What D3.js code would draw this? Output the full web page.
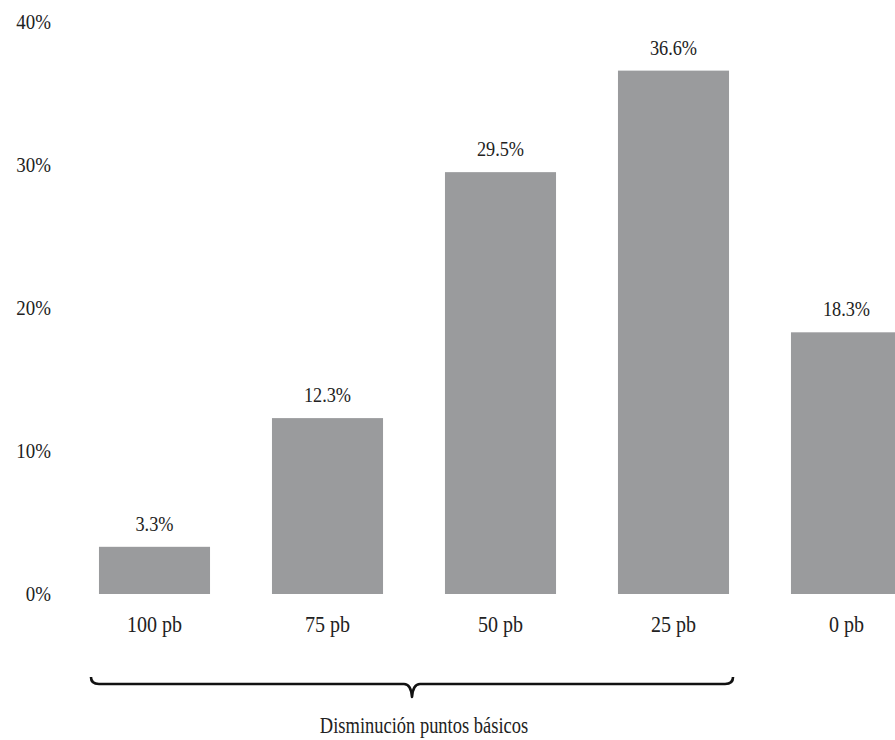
<!DOCTYPE html>
<html><head><meta charset="utf-8">
<script src="https://cdn.jsdelivr.net/npm/d3@7"></script>
<style>
html,body{margin:0;padding:0;background:#fff;}
svg{display:block;}
text{font-family:"Liberation Serif","Times New Roman",serif;fill:#222;}
</style></head>
<body>
<svg id="chart" width="895" height="740"></svg>
<script>
const categories = ["100 pb", "75 pb", "50 pb", "25 pb", "0 pb"];
const values = [3.3, 12.3, 29.5, 36.6, 18.3];
const valueLabels = ["3.3%", "12.3%", "29.5%", "36.6%", "18.3%"];
const yTicks = [0, 10, 20, 30, 40];
const yTickLabels = ["0%", "10%", "20%", "30%", "40%"];
const bracedCategories = ["100 pb", "75 pb", "50 pb", "25 pb"];
const braceLabel = "Disminución puntos básicos";

const svg = d3.select("#chart");
const baseY = 594, topY = 22;

const x = d3.scaleBand().domain(categories).range([68, 933]).paddingInner(0.358).paddingOuter(0.179);
const y = d3.scaleLinear().domain([0, 40]).range([baseY, topY]);

// y axis
const yAxis = d3.axisLeft(y).tickValues(yTicks).tickSize(0).tickPadding(0)
  .tickFormat((d, i) => yTickLabels[i]);
const gy = svg.append("g").attr("transform", "translate(51,0)").call(yAxis);
gy.select(".domain").remove();
gy.selectAll("text").style("font-size", "21px").style("font-family", '"Liberation Serif",serif')
  .attr("fill", "#222").attr("x", 0).attr("transform", "scale(0.9,1)");

// bars
svg.append("g").selectAll("rect").data(values).join("rect")
  .attr("x", (d, i) => x(categories[i]))
  .attr("y", d => y(d))
  .attr("width", x.bandwidth())
  .attr("height", d => baseY - y(d))
  .attr("fill", "#9a9b9d");

// value labels
svg.append("g").selectAll("text").data(values).join("text")
  .attr("transform", (d, i) => `translate(${x(categories[i]) + x.bandwidth() / 2},${y(d) - 16}) scale(0.83,1)`)
  .attr("text-anchor", "middle")
  .style("font-size", "22px")
  .text((d, i) => valueLabels[i]);

// x axis
const xAxis = d3.axisBottom(x).tickSize(0).tickPadding(22);
const gx = svg.append("g").attr("transform", `translate(0,${baseY})`).call(xAxis);
gx.select(".domain").remove();
gx.selectAll("text").style("font-size", "23px").style("font-family", '"Liberation Serif",serif')
  .attr("fill", "#222").attr("transform", "scale(0.87,1)");

// brace
const bx0 = x(bracedCategories[0]) - 8;
const bx1 = x(bracedCategories[bracedCategories.length - 1]) + x.bandwidth() + 4;
const bm = (bx0 + bx1) / 2;
const by = 684;
const p = d3.path();
p.moveTo(bx0, by - 7);
p.quadraticCurveTo(bx0, by, bx0 + 8, by);
p.lineTo(bm - 8, by);
p.quadraticCurveTo(bm - 1, by, bm, by + 13);
p.quadraticCurveTo(bm + 1, by, bm + 8, by);
p.lineTo(bx1 - 8, by);
p.quadraticCurveTo(bx1, by, bx1, by - 7);
svg.append("path").attr("d", p.toString()).attr("fill", "none")
  .attr("stroke", "#111").attr("stroke-width", 2.6).attr("stroke-linejoin", "round");

svg.append("text")
  .attr("transform", `translate(${bm + 12},733) scale(0.77,1)`)
  .attr("text-anchor", "middle")
  .style("font-size", "24px")
  .text(braceLabel);
</script>
</body></html>
